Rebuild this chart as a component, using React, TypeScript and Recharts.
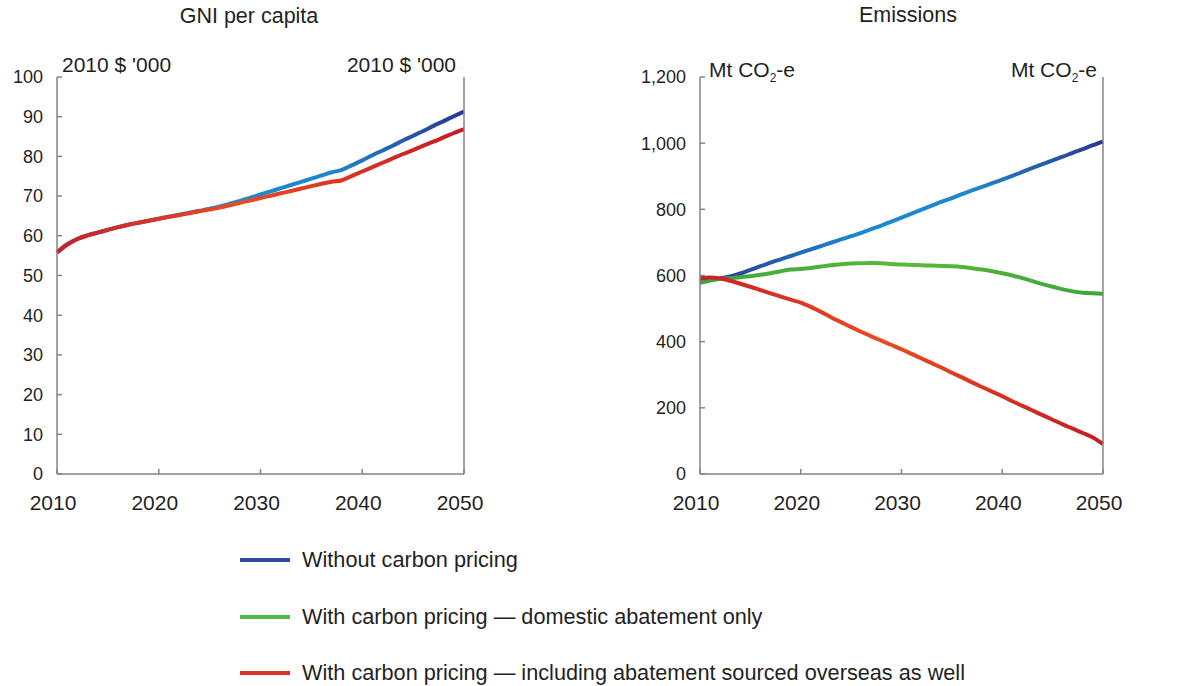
import React from "react";
import { LineChart, Line, XAxis, YAxis } from "recharts";

// annual values
const YEARS = [
  2010, 2011, 2012, 2013, 2014, 2015, 2016, 2017, 2018, 2019, 2020, 2021, 2022,
  2023, 2024, 2025, 2026, 2027, 2028, 2029, 2030, 2031, 2032, 2033, 2034, 2035,
  2036, 2037, 2038, 2039, 2040, 2041, 2042, 2043, 2044, 2045, 2046, 2047, 2048,
  2049, 2050,
];

// GNI per capita, 2010 $ '000
const GNI_WITHOUT = [
  55.8, 57.8, 59.2, 60.1, 60.8, 61.5, 62.2, 62.8, 63.3, 63.8, 64.3, 64.8, 65.3,
  65.8, 66.3, 66.8, 67.4, 68.1, 68.8, 69.6, 70.4, 71.2, 72.0, 72.8, 73.6, 74.4,
  75.2, 76.0, 76.6, 77.8, 79.0, 80.3, 81.5, 82.7, 84.0, 85.2, 86.4, 87.7, 88.9,
  90.1, 91.3,
];
const GNI_OVERSEAS = [
  55.8, 57.8, 59.2, 60.1, 60.8, 61.5, 62.2, 62.8, 63.3, 63.8, 64.3, 64.8, 65.2,
  65.7, 66.2, 66.6, 67.1, 67.7, 68.3, 68.9, 69.5, 70.1, 70.7, 71.3, 71.9, 72.5,
  73.1, 73.6, 74.0, 75.1, 76.2, 77.3, 78.4, 79.5, 80.6, 81.6, 82.7, 83.7, 84.8,
  85.9, 86.9,
];

// Emissions, Mt CO2-e
const EM_WITHOUT = [
  590, 588, 591, 597, 606, 617, 628, 639, 649, 659, 669, 679, 689, 699, 709,
  719, 729, 740, 751, 763, 775, 787, 799, 811, 823, 834, 846, 857, 868, 879,
  890, 901, 913, 925, 937, 948, 959, 971, 982, 994, 1005,
];
const EM_DOMESTIC = [
  578, 585, 590, 592, 595, 598, 602, 607, 613, 618, 620, 623, 627, 631, 634,
  636, 637, 638, 637, 635, 633, 632, 631, 630, 629, 628, 626, 622, 618, 613,
  607, 600, 592, 583, 574, 566, 558, 552, 548, 546, 545,
];
const EM_OVERSEAS = [
  592, 594, 591, 584, 575, 566, 556, 546, 536, 527, 518, 505, 490, 474, 459,
  444, 430, 416, 403, 390, 377, 363, 349, 335, 321, 306, 292, 277, 263, 249,
  235, 220, 206, 192, 178, 164, 150, 137, 124, 110, 90,
];

const X_TICKS = [2010, 2020, 2030, 2040, 2050];
const GNI_TICKS = [0, 10, 20, 30, 40, 50, 60, 70, 80, 90, 100];
const EM_TICKS = [0, 200, 400, 600, 800, 1000, 1200];

const SERIES_LABELS = [
  "Without carbon pricing",
  "With carbon pricing \u2014 domestic abatement only",
  "With carbon pricing \u2014 including abatement sourced overseas as well",
];
const SWATCHES = ["#2f4da0", "#4cb848", "#d93328"];

const gniData = YEARS.map((year, i) => ({
  year,
  without: GNI_WITHOUT[i],
  overseas: GNI_OVERSEAS[i],
}));
const emData = YEARS.map((year, i) => ({
  year,
  without: EM_WITHOUT[i],
  domestic: EM_DOMESTIC[i],
  overseas: EM_OVERSEAS[i],
}));

const FONT = '"Liberation Sans", Arial, sans-serif';
const TEXT = "#1f1f1f";
const AXIS = "#8c8180";

const yTick = { fill: TEXT, fontSize: 18 };
const xTick = { fill: TEXT, fontSize: 21, dx: -4 };
const fmtThousands = (v: number) => v.toLocaleString("en-US");

function Gradients({ prefix }: { prefix: string }) {
  return (
    <defs>
      <linearGradient id={`${prefix}-blue`} x1="0" y1="0" x2="1" y2="0">
        <stop offset="0%" stopColor="#2b3590" />
        <stop offset="40%" stopColor="#1b8ad2" />
        <stop offset="68%" stopColor="#1f86cc" />
        <stop offset="100%" stopColor="#2b3590" />
      </linearGradient>
      <linearGradient id={`${prefix}-red`} x1="0" y1="0" x2="1" y2="0">
        <stop offset="0%" stopColor="#c8202a" />
        <stop offset="45%" stopColor="#ea4b20" />
        <stop offset="100%" stopColor="#c41c24" />
      </linearGradient>
      <linearGradient id={`${prefix}-green`} x1="0" y1="0" x2="1" y2="0">
        <stop offset="0%" stopColor="#3aa63a" />
        <stop offset="50%" stopColor="#5cb83a" />
        <stop offset="100%" stopColor="#3aa63a" />
      </linearGradient>
    </defs>
  );
}

const abs = (style: React.CSSProperties): React.CSSProperties => ({
  position: "absolute",
  lineHeight: 1,
  whiteSpace: "nowrap",
  color: TEXT,
  ...style,
});

export default function App() {
  return (
    <div
      style={{
        position: "absolute",
        left: 0,
        top: 0,
        width: 1182,
        height: 686,
        background: "#fff",
        fontFamily: FONT,
        overflow: "hidden",
      }}
    >
      <div style={abs({ left: 149, width: 200, top: 6, fontSize: 21.5, textAlign: "center" })}>
        GNI per capita
      </div>
      <div style={abs({ left: 808, width: 200, top: 5, fontSize: 21.5, textAlign: "center" })}>
        Emissions
      </div>

      <div style={abs({ left: 62, top: 54, fontSize: 21 })}>2010 $ '000</div>
      <div style={abs({ right: 1182 - 456, top: 54, fontSize: 21 })}>2010 $ '000</div>
      <div style={abs({ left: 709, top: 59, fontSize: 21 })}>
        Mt CO<sub style={{ fontSize: 12 }}>2</sub>-e
      </div>
      <div style={abs({ right: 1182 - 1097, top: 59, fontSize: 21 })}>
        Mt CO<sub style={{ fontSize: 12 }}>2</sub>-e
      </div>

      <div style={{ position: "absolute", left: 0, top: 0 }}>
        <LineChart
          width={560}
          height={540}
          data={gniData}
          margin={{ top: 77, right: 0, bottom: 0, left: 0 }}
        >
          <Gradients prefix="gni" />
          <XAxis
            dataKey="year"
            type="number"
            domain={[2010, 2050]}
            ticks={X_TICKS}
            interval={0}
            height={66}
            tickSize={-5}
            tickMargin={26}
            stroke={AXIS}
            strokeWidth={1.5}
            tick={xTick}
          />
          <YAxis
            yAxisId="l"
            orientation="left"
            domain={[0, 100]}
            ticks={GNI_TICKS}
            interval={0}
            width={57}
            tickSize={-5}
            tickMargin={19}
            stroke={AXIS}
            strokeWidth={1.5}
            tick={yTick}
          />
          <YAxis
            yAxisId="r"
            orientation="right"
            domain={[0, 100]}
            ticks={GNI_TICKS}
            interval={0}
            width={96}
            tickSize={-5}
            tickMargin={21}
            stroke={AXIS}
            strokeWidth={1.5}
            tick={yTick}
          />
          <Line
            yAxisId="l"
            type="monotone"
            dataKey="without"
            stroke="url(#gni-blue)"
            strokeWidth={4}
            dot={false}
            isAnimationActive={false}
          />
          <Line
            yAxisId="l"
            type="monotone"
            dataKey="overseas"
            stroke="url(#gni-red)"
            strokeWidth={4}
            dot={false}
            isAnimationActive={false}
          />
        </LineChart>
      </div>

      <div style={{ position: "absolute", left: 600, top: 0 }}>
        <LineChart
          width={582}
          height={540}
          data={emData}
          margin={{ top: 77, right: 0, bottom: 0, left: 0 }}
        >
          <Gradients prefix="em" />
          <XAxis
            dataKey="year"
            type="number"
            domain={[2010, 2050]}
            ticks={X_TICKS}
            interval={0}
            height={66}
            tickSize={-5}
            tickMargin={26}
            stroke={AXIS}
            strokeWidth={1.5}
            tick={xTick}
          />
          <YAxis
            yAxisId="l"
            orientation="left"
            domain={[0, 1200]}
            ticks={EM_TICKS}
            interval={0}
            width={100}
            tickSize={-5}
            tickMargin={19}
            stroke={AXIS}
            strokeWidth={1.5}
            tick={yTick}
            tickFormatter={fmtThousands}
          />
          <YAxis
            yAxisId="r"
            orientation="right"
            domain={[0, 1200]}
            ticks={EM_TICKS}
            interval={0}
            width={79}
            tickSize={-5}
            tickMargin={21}
            stroke={AXIS}
            strokeWidth={1.5}
            tick={yTick}
            tickFormatter={fmtThousands}
          />
          <Line
            yAxisId="l"
            type="monotone"
            dataKey="without"
            stroke="url(#em-blue)"
            strokeWidth={4}
            dot={false}
            isAnimationActive={false}
          />
          <Line
            yAxisId="l"
            type="monotone"
            dataKey="domestic"
            stroke="url(#em-green)"
            strokeWidth={4}
            dot={false}
            isAnimationActive={false}
          />
          <Line
            yAxisId="l"
            type="monotone"
            dataKey="overseas"
            stroke="url(#em-red)"
            strokeWidth={4}
            dot={false}
            isAnimationActive={false}
          />
        </LineChart>
      </div>

      {SERIES_LABELS.map((label, i) => (
        <div
          key={label}
          style={abs({
            left: 240,
            top: 548 + i * 56.5,
            height: 24,
            display: "flex",
            alignItems: "center",
            fontSize: 21.7,
          })}
        >
          <span
            style={{
              display: "inline-block",
              width: 50,
              height: 4,
              background: SWATCHES[i],
              marginRight: 12,
            }}
          />
          {label}
        </div>
      ))}
    </div>
  );
}
